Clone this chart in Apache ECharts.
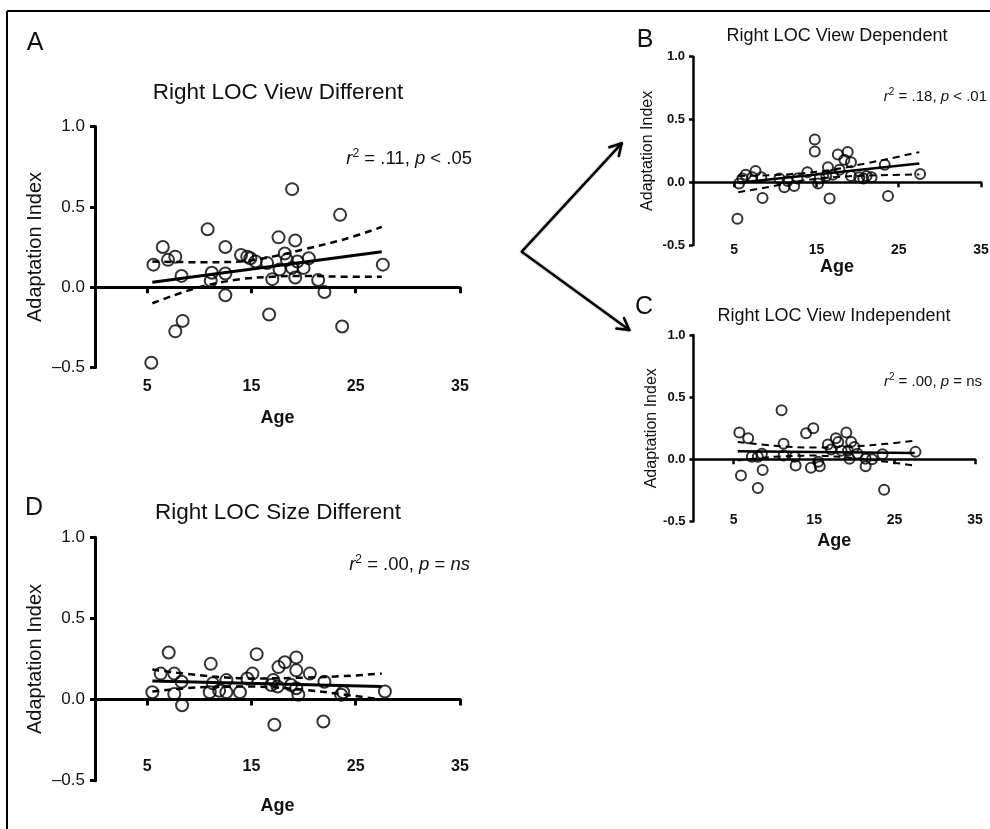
<!DOCTYPE html>
<html><head><meta charset="utf-8">
<script src="https://cdn.jsdelivr.net/npm/echarts@6/dist/echarts.min.js"></script>
<style>html,body{margin:0;padding:0;background:#fff}#c{width:990px;height:829px}</style>
</head><body><div id="c"></div>
<script>
// ---------------- DATA ----------------
const xTickValues = [5, 15, 25, 35];
const yTickValues = [-0.5, 0, 0.5, 1.0];
const yTickLabelsBig = ['\u20130.5', '0.0', '0.5', '1.0'];
const yTickLabelsSmall = ['-0.5', '0.0', '0.5', '1.0'];

const titleA = 'Right LOC View Different';
const titleB = 'Right LOC View Dependent';
const titleC = 'Right LOC View Independent';
const titleD = 'Right LOC Size Different';

// Panel A
const agesA = [5.4, 5.6, 6.5, 7.0, 7.7, 7.7, 8.3, 8.4, 10.8, 11.1, 11.2, 12.5, 12.5, 12.5, 14.0, 14.6, 14.9, 15.4, 16.5, 16.7, 17.0, 17.6, 17.7, 18.2, 18.4, 18.9, 18.9, 19.2, 19.2, 19.4, 20.0, 20.5, 21.4, 22.0, 23.5, 23.7, 27.6];
const valuesA = [-0.47, 0.14, 0.25, 0.17, 0.19, -0.275, 0.07, -0.21, 0.36, 0.04, 0.09, 0.25, 0.085, -0.05, 0.20, 0.19, 0.18, 0.16, 0.15, -0.17, 0.05, 0.31, 0.11, 0.21, 0.17, 0.61, 0.12, 0.29, 0.06, 0.16, 0.12, 0.18, 0.045, -0.03, 0.45, -0.245, 0.14];
const fitAgesA = [5.5, 27.5];
const fitA = [0.03, 0.22];
const bandAgesA = [5.5, 10, 14, 17, 20, 24, 27.5];
const upperA = [0.16, 0.155, 0.16, 0.19, 0.235, 0.30, 0.375];
const lowerA = [-0.10, 0.0, 0.05, 0.065, 0.07, 0.065, 0.065];

// Panel B
const agesB = [5.4, 5.6, 6.0, 6.4, 7.2, 7.6, 8.3, 8.45, 10.5, 11.1, 11.5, 12.3, 12.7, 13.9, 14.8, 14.8, 15.2, 15.4, 16.2, 16.4, 16.6, 17.0, 17.6, 17.8, 18.4, 18.8, 19.2, 19.2, 20.2, 20.7, 21.1, 21.7, 23.3, 23.7, 27.6];
const valuesB = [-0.29, -0.01, 0.03, 0.06, 0.04, 0.09, 0.04, -0.125, 0.03, -0.04, 0.01, -0.03, 0.03, 0.08, 0.34, 0.245, -0.01, 0.03, 0.05, 0.12, -0.13, 0.06, 0.22, 0.10, 0.18, 0.24, 0.16, 0.05, 0.04, 0.03, 0.05, 0.04, 0.14, -0.11, 0.066];
const fitAgesB = [5.5, 27.5];
const fitB = [-0.005, 0.15];
const bandAgesB = [5.5, 9, 13, 17, 21, 24, 27.5];
const upperB = [0.05, 0.055, 0.07, 0.10, 0.15, 0.19, 0.24];
const lowerB = [-0.08, -0.04, 0.01, 0.04, 0.053, 0.058, 0.062];

// Panel C
const agesC = [5.7, 5.9, 6.8, 7.25, 8.0, 8.0, 8.5, 8.6, 10.95, 11.2, 11.2, 12.6, 12.7, 14.0, 14.6, 14.9, 15.5, 15.7, 16.7, 17.1, 17.7, 18.0, 18.4, 19.0, 19.2, 19.4, 19.6, 20.0, 20.4, 21.4, 21.4, 22.2, 23.5, 23.7, 27.6];
const valuesC = [0.215, -0.13, 0.17, 0.02, -0.23, 0.02, 0.045, -0.085, 0.395, 0.125, 0.03, 0.02, -0.05, 0.21, -0.067, 0.25, -0.02, -0.056, 0.12, 0.08, 0.17, 0.14, 0.07, 0.215, 0.07, 0.005, 0.14, 0.10, 0.045, 0.005, -0.056, 0.0, 0.04, -0.245, 0.06];
const fitAgesC = [5.5, 27.5];
const fitC = [0.065, 0.05];
const bandAgesC = [5.5, 10, 15, 20, 24, 27.5];
const upperC = [0.14, 0.11, 0.095, 0.105, 0.125, 0.15];
const lowerC = [-0.01, 0.02, 0.03, 0.01, -0.02, -0.05];

// Panel D
const agesD = [5.5, 6.3, 7.07, 7.6, 7.6, 8.3, 8.35, 11.0, 11.1, 11.3, 11.9, 12.6, 12.6, 13.9, 14.6, 15.1, 15.5, 16.9, 17.1, 17.2, 17.5, 17.6, 18.2, 18.8, 19.3, 19.3, 19.3, 19.5, 20.6, 21.9, 22.0, 23.6, 23.8, 27.8];
const valuesD = [0.045, 0.16, 0.29, 0.16, 0.035, 0.11, -0.035, 0.045, 0.22, 0.10, 0.055, 0.12, 0.045, 0.045, 0.13, 0.16, 0.28, 0.09, 0.12, -0.155, 0.08, 0.20, 0.23, 0.09, 0.26, 0.18, 0.07, 0.03, 0.16, -0.135, 0.11, 0.03, 0.045, 0.05];
const fitAgesD = [5.5, 27.5];
const fitD = [0.115, 0.08];
const bandAgesD = [5.5, 10, 15, 20, 24, 27.5];
const upperD = [0.185, 0.15, 0.13, 0.135, 0.145, 0.16];
const lowerD = [0.05, 0.075, 0.08, 0.06, 0.03, 0.0];

// ---------------- LAYOUT / STYLE ----------------
const FONT = '"Liberation Sans", Arial, Helvetica, sans-serif';
const INK = '#111';
const zip = (xs, ys) => xs.map((x, i) => [x, ys[i]]);

const big = {symbol: 12, axisW: 3, lineW: 2.5, yLabFs: 17, yLabFw: 'normal', yLabMargin: 10, xLabFs: 16, nameFs: 20, ageFs: 18, tick: 6, yLabels: yTickLabelsBig};
const small = {symbol: 10, axisW: 2.5, lineW: 2, yLabFs: 13, yLabFw: 'bold', yLabMargin: 8, xLabFs: 14, nameFs: 16, ageFs: 18, tick: 5, yLabels: yTickLabelsSmall};

const panels = [
  {ages: agesA, vals: valuesA, fitX: fitAgesA, fitY: fitA, bandX: bandAgesA, up: upperA, lo: lowerA, st: big,
   grid: {left: 95, top: 126.5, width: 365, height: 241}, labelY: 387, nameY: 418, yNameX: 35},
  {ages: agesB, vals: valuesB, fitX: fitAgesB, fitY: fitB, bandX: bandAgesB, up: upperB, lo: lowerB, st: small,
   grid: {left: 693, top: 56.7, width: 288, height: 188.3}, labelY: 250, nameY: 262, yNameX: 648},
  {ages: agesC, vals: valuesC, fitX: fitAgesC, fitY: fitC, bandX: bandAgesC, up: upperC, lo: lowerC, st: small,
   grid: {left: 693.5, top: 335, width: 281.5, height: 186.5}, labelY: 520, nameY: 541, yNameX: 652},
  {ages: agesD, vals: valuesD, fitX: fitAgesD, fitY: fitD, bandX: bandAgesD, up: upperD, lo: lowerD, st: big,
   grid: {left: 95, top: 537.3, width: 365, height: 243.4}, labelY: 767, nameY: 806, yNameX: 35}
];

const grids = [], xAxes = [], yAxes = [], series = [];
panels.forEach((p, i) => {
  const st = p.st;
  const g = p.grid;
  grids.push({left: g.left, top: g.top, width: g.width, height: g.height, containLabel: false, outerBoundsMode: 'none'});
  const bottom = g.top + g.height;
  xAxes.push({
    gridIndex: i, type: 'value', min: 0, max: 35,
    axisLine: {show: true, onZero: true, lineStyle: {color: '#000', width: st.axisW}},
    axisTick: {show: true, customValues: xTickValues, length: st.tick, lineStyle: {color: '#000', width: st.axisW}},
    axisLabel: {show: false}, splitLine: {show: false}
  });
  const axisY = p.labelY - (2 + st.xLabFs / 2);
  xAxes.push({
    gridIndex: i, type: 'value', min: 0, max: 35, position: 'bottom',
    offset: axisY - bottom,
    axisLine: {show: false, onZero: false}, axisTick: {show: false}, splitLine: {show: false},
    axisLabel: {customValues: xTickValues, margin: 2, fontSize: st.xLabFs, fontWeight: 'bold', color: INK, fontFamily: FONT},
    name: 'Age', nameLocation: 'middle', nameGap: p.nameY - axisY - st.ageFs / 2,
    nameTextStyle: {fontSize: st.ageFs, fontWeight: 'bold', color: INK, fontFamily: FONT}
  });
  yAxes.push({
    gridIndex: i, type: 'value', min: -0.5, max: 1.0, interval: 0.5,
    axisLine: {show: true, onZero: false, lineStyle: {color: '#000', width: st.axisW}},
    axisTick: {show: true, length: st.tick - 1, lineStyle: {color: '#000', width: st.axisW}},
    axisLabel: {margin: st.yLabMargin, fontSize: st.yLabFs, fontWeight: st.yLabFw, color: INK, fontFamily: FONT,
      formatter: v => st.yLabels[yTickValues.findIndex(t => Math.abs(t - v) < 1e-6)]},
    splitLine: {show: false},
    name: 'Adaptation Index', nameLocation: 'middle', nameGap: g.left - p.yNameX - st.nameFs / 2,
    nameTextStyle: {fontSize: st.nameFs, color: INK, fontFamily: FONT}
  });
  const lineCommon = {type: 'line', xAxisIndex: 2 * i, yAxisIndex: i, showSymbol: false, smooth: 0.35, silent: true, z: 2};
  series.push(Object.assign({}, lineCommon, {data: zip(p.bandX, p.up), lineStyle: {color: '#000', width: st.lineW, type: [7, 5]}}));
  series.push(Object.assign({}, lineCommon, {data: zip(p.bandX, p.lo), lineStyle: {color: '#000', width: st.lineW, type: [7, 5]}}));
  series.push(Object.assign({}, lineCommon, {smooth: false, data: zip(p.fitX, p.fitY), lineStyle: {color: '#000', width: st.lineW + 0.5}}));
  series.push({
    type: 'scatter', xAxisIndex: 2 * i, yAxisIndex: i, data: zip(p.ages, p.vals),
    symbol: 'circle', symbolSize: st.symbol, z: 3,
    itemStyle: {color: 'rgba(255,255,255,0)', borderColor: '#000', borderWidth: 2}
  });
});

function txt(x, y, text, size, opts) {
  opts = opts || {};
  return {type: 'text', z: 10, style: Object.assign({
    x: x, y: y, text: text, fill: INK, fontSize: size, fontFamily: FONT,
    textAlign: opts.align || 'center', textVerticalAlign: 'middle'
  }, opts.style || {})};
}
// r-squared / p annotation; parts: list of [styleName, text]
function stat(x, y, parts, size) {
  const supSize = Math.round(size * 0.65);
  const lift = 2;
  const text = parts.map(pt => '{' + pt[0] + '|' + pt[1] + '}').join('');
  return {type: 'text', z: 10, style: {
    x: x, y: y + 1, text: text,
    fill: INK, fontSize: size, fontFamily: FONT, textAlign: 'right', textVerticalAlign: 'middle',
    rich: {
      i: {fontStyle: 'italic', fontSize: size, fontFamily: FONT, fill: INK, padding: [lift, 0, 0, 0]},
      n: {fontSize: size, fontFamily: FONT, fill: INK, padding: [lift, 0, 0, 0]},
      s: {fontSize: supSize, fontFamily: FONT, fill: INK, verticalAlign: 'top'}
    }}};
}

const arrowStyle = {stroke: '#000', lineWidth: 2.5, fill: null, lineCap: 'round', lineJoin: 'round', shadowBlur: 2, shadowColor: 'rgba(0,0,0,0.35)'};
const graphics = [
  {type: 'line', shape: {x1: 7, y1: 11, x2: 990, y2: 11}, style: {stroke: '#000', lineWidth: 2}},
  {type: 'line', shape: {x1: 7, y1: 11, x2: 7, y2: 829}, style: {stroke: '#000', lineWidth: 2}},
  {type: 'polyline', shape: {points: [[621.7, 143.3], [521.7, 251.7], [629.3, 330]]}, style: arrowStyle},
  {type: 'polyline', shape: {points: [[609.3, 147.2], [621.7, 143.3], [618.8, 156]]}, style: arrowStyle},
  {type: 'polyline', shape: {points: [[624, 318.1], [629.3, 330], [616.4, 328.6]]}, style: arrowStyle},
  txt(35, 43, 'A', 25),
  txt(645, 40, 'B', 25),
  txt(644, 307, 'C', 25),
  txt(34, 508, 'D', 25),
  txt(278, 93, titleA, 22.5),
  txt(837, 36, titleB, 18),
  txt(834, 316, titleC, 18),
  txt(278, 513, titleD, 22.5),
  stat(472, 157, [['i', 'r'], ['s', '2'], ['n', ' = .11, '], ['i', 'p'], ['n', ' < .05']], 18.5),
  stat(987, 95, [['i', 'r'], ['s', '2'], ['n', ' = .18, '], ['i', 'p'], ['n', ' < .01']], 15),
  stat(982, 380, [['i', 'r'], ['s', '2'], ['n', ' = .00, '], ['i', 'p'], ['n', ' = ns']], 15),
  stat(470, 563, [['i', 'r'], ['s', '2'], ['n', ' = .00, '], ['i', 'p'], ['n', ' = '], ['i', 'ns']], 18.5)
];

const chart = echarts.init(document.getElementById('c'));
chart.setOption({
  animation: false,
  backgroundColor: '#fff',
  textStyle: {fontFamily: FONT},
  grid: grids, xAxis: xAxes, yAxis: yAxes, series: series,
  graphic: graphics
});
</script></body></html>
